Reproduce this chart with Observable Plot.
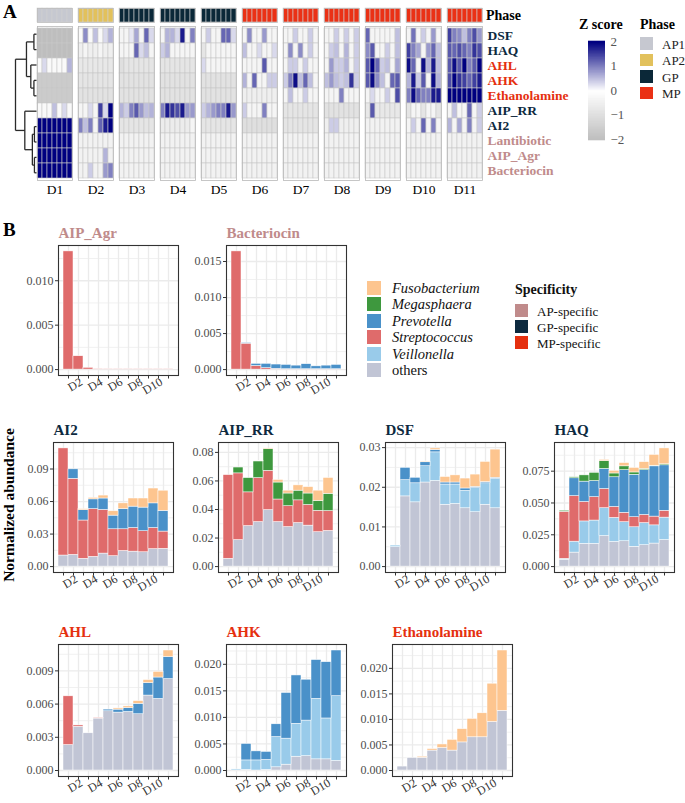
<!DOCTYPE html>
<html><head><meta charset="utf-8">
<script src="https://cdn.jsdelivr.net/npm/d3@7"></script>
<script src="https://cdn.jsdelivr.net/npm/@observablehq/plot@0.6"></script>
<style>
body{margin:0;background:#fff;}
#root{position:relative;width:685px;height:803px;overflow:hidden;font-family:"Liberation Serif","Times New Roman",serif;background:#fff;}
#root svg{overflow:visible;}
.t{position:absolute;white-space:nowrap;transform:translateY(-50%);line-height:1;}
.sq{position:absolute;}
</style></head><body><div id="root"></div>
<script>
// ---------------- DATA ----------------
const days = ["D1","D2","D3","D4","D5","D6","D7","D8","D9","D10","D11"];
const dayPhase = ["AP1","AP2","GP","GP","GP","MP","MP","MP","MP","MP","MP"];
const phases = ["AP1","AP2","GP","MP"];
const phaseColors = ["#c6c8d0","#e2c15c","#0b2838","#ea3115"];
const rowNames = ["DSF","HAQ","AHL","AHK","Ethanolamine","AIP_RR","AI2","Lantibiotic","AIP_Agr","Bacteriocin"];
const rowSpecificity = ["GP","GP","MP","MP","MP","GP","GP","AP","AP","AP"];
const specNames = ["AP","GP","MP"];
const specLabels = ["AP-specific","GP-specific","MP-specific"];
const specColors = ["#c08b8b","#0d2a3f","#e5300f"];

// z scores: per row, 11 days x 7 samples
const zDSF = [[-2,-2,-2,-2,-2,-2,-2],[-0.2,0.9,-0.2,0.5,-0.2,0.3,0.6],[-0.3,-0.3,0.2,0.7,-0.3,1.2,0.3],[-0.3,0.6,0.6,0.3,1.8,-0.3,1.0],[-0.3,0.4,-0.3,-0.3,1.2,1.2,0.3],[-0.3,0.9,-0.3,-0.3,0.8,-0.3,-0.3],[-0.3,-0.3,0.4,-0.3,-0.3,0.4,-0.3],[-0.3,-0.3,0.4,-0.3,0.4,-0.3,0.4],[1.2,-0.3,-0.3,-0.3,-0.3,-0.3,0.5],[-0.3,1.1,-0.3,0.4,-0.3,0.8,-0.3],[1.5,1.0,0.9,0.5,1.0,1.4,0.8]];
const zHAQ = [[-2,-2,-2,-2,-2,-2,-2],[-0.5,-0.3,-0.5,-0.5,-0.3,-0.5,-0.5],[-0.3,-0.3,-0.3,1.2,0.3,0.5,-0.3],[0.4,0.6,-0.3,-0.3,-0.3,-0.3,-0.3],[-0.8,-0.3,-0.3,-0.3,-0.3,-0.3,-0.3],[0.5,-0.3,-0.3,0.3,-0.3,-0.3,0.3],[-0.3,0.9,-0.3,0.9,-0.3,0.4,-0.3],[-0.3,0.4,0.5,-0.3,0.6,-0.3,0.4],[0.9,1.3,-0.3,-0.3,0.4,-0.3,0.5],[1.5,1.0,0.7,-0.3,0.8,1.2,0.5],[1.3,1.2,1.4,1.2,1.0,1.6,1.4]];
const zAHL = [[-0.2,0.3,-0.2,-0.2,-0.2,-0.2,0.6],[-0.7,-0.7,-0.7,-0.7,-0.7,-0.7,-0.7],[-1,-0.8,-0.8,-0.8,-0.8,-0.8,-0.8],[-0.8,-0.8,-0.8,-0.8,-0.8,-0.8,-0.8],[0.3,-0.3,-0.3,-0.3,-0.3,-0.3,-0.3],[-0.3,-0.3,-0.3,-0.3,1.3,-0.3,-0.3],[-0.3,0.4,0.4,-0.3,0.4,-0.3,-0.3],[-0.3,0.8,0.4,0.4,0.6,-0.3,0.4],[1.3,2.0,1.2,0.4,0.5,-0.3,0.7],[1.9,1.2,-0.3,1.9,0.6,1.8,0.5],[1.3,1.9,1.3,2.0,1.0,1.3,2.0]];
const zAHK = [[-1.6,-1.6,-1.6,-1.6,-1.6,-1.6,-1.6],[-0.8,-0.8,-0.8,-0.8,-0.8,-0.8,-0.8],[-0.9,-0.9,-0.9,-0.9,-0.9,-0.9,-0.9],[-0.9,-0.9,-0.9,-0.9,-0.9,-0.9,-0.9],[-0.9,-0.9,-0.9,-0.9,-0.9,-0.9,-0.9],[0.6,-0.3,1.2,-0.3,-0.3,0.4,0.4],[0.4,1.0,1.9,0.5,1.2,0.5,-0.3],[0.5,0.8,0.5,0.4,0.5,1.6,0.4],[1.3,1.9,0.9,0.5,-0.3,1.2,1.3],[0.6,1.8,0.4,1.3,-0.3,1.9,0.6],[1.4,2.0,1.6,1.5,1.2,1.5,1.8]];
const zEthanolamine = [[-1.6,-1.6,-1.6,-1.6,-1.6,-1.6,-1.6],[-0.9,-0.9,-0.9,-0.9,-0.9,-0.9,-0.9],[-0.9,-0.9,-0.9,-0.9,-0.9,-0.9,-0.9],[-0.9,-0.9,-0.9,-0.9,-0.9,-0.9,-0.9],[-0.9,-0.9,-0.9,-0.9,-0.9,-0.9,-0.9],[-0.5,-0.5,-0.5,-0.5,-0.5,-0.5,-0.5],[-0.3,0.5,-0.3,-0.3,0.4,-0.3,-0.3],[-0.3,-0.3,-0.3,1.0,-0.3,-0.3,-0.3],[-0.3,0.3,-0.3,-0.3,0.4,-0.3,1.4],[1.0,1.9,1.2,1.0,1.0,1.8,1.8],[2,2,2,2,2,2,2]];
const zAIP_RR = [[-0.2,-0.2,-0.2,0.5,-0.2,0.3,-0.2],[-0.3,-0.3,0.3,-0.3,1.5,0.3,2.0],[0.6,0.4,1.0,1.3,0.8,0.5,0.6],[1.0,1.8,1.6,1.4,1.8,0.8,0.8],[0.4,0.6,0.8,1.0,1.0,1.8,0.8],[0.4,-0.3,-0.3,-0.3,1.0,-0.3,-0.3],[-0.8,-0.8,-0.8,-0.8,-0.8,-0.8,-0.8],[-0.9,-0.9,-0.9,-0.9,-0.9,-0.9,-0.9],[-0.7,1.3,-0.7,-0.7,-0.7,-0.7,-0.7],[-0.8,-0.3,-0.3,-0.8,-0.3,-0.3,-0.8],[-0.3,0.5,-0.3,-0.3,1.2,-0.3,0.4]];
const zAI2 = [[2,2,2,2,2,2,2],[1.0,0.5,1.0,-0.3,1.2,1.8,2.0],[-0.8,-0.8,-0.8,-0.8,-0.8,-0.8,-0.8],[-0.6,-0.6,-0.6,-0.6,-0.6,-0.6,-0.3],[-0.8,-0.8,-0.8,-0.8,-0.8,-0.8,-0.8],[-1,-1,-1,-1,-1,-1,-1],[-0.8,-0.8,-0.8,-0.8,-0.8,-0.8,-0.8],[-0.5,0.4,0.4,-0.5,-0.5,-0.5,-0.5],[-0.4,-0.4,-0.4,-0.4,-0.4,-0.4,-0.4],[-0.3,0.4,-0.3,1.2,-0.3,1.0,-0.3],[0.6,-0.3,0.7,-0.3,1.0,-0.3,0.4]];
const zLantibiotic = [[2,2,2,2,2,2,2],[-0.4,-0.4,-0.4,-0.4,-0.4,-0.4,-0.4],[-0.4,-0.4,-0.4,-0.4,-0.4,-0.4,-0.4],[-0.4,-0.4,-0.4,-0.4,-0.4,-0.4,-0.4],[-0.4,-0.4,-0.4,-0.4,-0.4,-0.4,-0.4],[-0.4,-0.4,-0.4,-0.4,-0.4,-0.4,-0.4],[-0.4,-0.4,-0.4,-0.4,-0.4,-0.4,-0.4],[-0.4,-0.4,-0.4,-0.4,-0.4,-0.4,-0.4],[-0.4,-0.4,-0.4,-0.4,-0.4,-0.4,-0.4],[-0.4,-0.4,-0.4,-0.4,-0.4,-0.4,-0.4],[-0.4,-0.4,-0.4,-0.4,-0.4,-0.4,-0.4]];
const zAIP_Agr = [[2,2,2,2,2,2,2],[-0.4,-0.4,-0.4,-0.4,-0.4,0.6,-0.4],[-0.4,-0.4,-0.4,-0.4,-0.4,-0.4,-0.4],[-0.4,-0.4,-0.4,-0.4,-0.4,-0.4,-0.4],[-0.4,-0.4,-0.4,-0.4,-0.4,-0.4,-0.4],[-0.4,-0.4,-0.4,-0.4,-0.4,-0.4,-0.4],[-0.4,-0.4,-0.4,-0.4,-0.4,-0.4,-0.4],[-0.4,-0.4,-0.4,-0.4,-0.4,-0.4,-0.4],[-0.4,-0.4,-0.4,-0.4,-0.4,-0.4,-0.4],[-0.4,-0.4,-0.4,-0.4,-0.4,-0.4,-0.4],[-0.4,-0.4,-0.4,-0.4,-0.4,-0.4,-0.4]];
const zBacteriocin = [[2,2,2,2,2,2,2],[-0.4,-0.4,0.4,-0.4,-0.4,0.8,1.0],[-0.4,-0.4,-0.4,-0.4,-0.4,-0.4,-0.4],[-0.4,-0.4,-0.4,-0.4,-0.4,-0.4,-0.4],[-0.4,-0.4,-0.4,-0.4,-0.4,-0.4,-0.4],[-0.4,-0.4,-0.4,-0.4,-0.4,-0.4,-0.4],[-0.4,-0.4,-0.4,-0.4,-0.4,-0.4,-0.4],[-0.4,-0.4,-0.4,-0.4,-0.4,-0.4,-0.4],[-0.4,-0.4,-0.4,-0.4,-0.4,-0.4,-0.4],[-0.4,-0.4,-0.4,-0.4,-0.4,-0.4,-0.4],[-0.4,-0.4,-0.4,-0.4,-0.4,-0.4,-0.4]];

// dendrogram (leaf = row index, h = merge height)
const dendroTree = {h:20.3, c:[{h:9.7, c:[{h:2.5, c:[0,1]}, {h:5.5, c:[2,{h:2.5, c:[3,4]}]}]}, {h:11.3, c:[5,{h:4, c:[{h:2, c:[6,7]},{h:2, c:[8,9]}]}]}]};

// panel B: stacked abundances (bottom -> top)
const speciesOrder = ["others","Veillonella","Streptococcus","Prevotella","Megasphaera","Fusobacterium"];
const speciesColors = ["#c1c5d5","#99cbea","#df6b6b","#4a91c9","#3e983e","#fdc58f"];
const legendSpecies = ["Fusobacterium","Megasphaera","Prevotella","Streptococcus","Veillonella","others"];

const abAIP_Agr = {Streptococcus:[0.0133,0.0015,0.0002,0.00006,0.00005,0.00005,0.00005,0.00005,0.00005,0.00005,0.00005]};
const abBacteriocin = {
  Streptococcus:[0.0164,0.0036,0.0005,0.0002,0.0001,0.00005,0.00005,0.00005,0.00005,0.00005,0.00005],
  Prevotella:[0,0.0001,0.0003,0.0006,0.0006,0.0006,0.0005,0.0007,0.0004,0.0005,0.0006]};
const abAI2 = {
  others:[0.0102,0.0108,0.0072,0.009,0.012,0.0096,0.0144,0.0138,0.0132,0.0161,0.0164],
  Streptococcus:[0.0988,0.0702,0.0353,0.044,0.0403,0.0248,0.02,0.0218,0.0194,0.0195,0.0159],
  Prevotella:[0,0.0087,0.0095,0.009,0.0105,0.0126,0.0186,0.0197,0.0218,0.0227,0.0191],
  Fusobacterium:[0,0,0.001,0.0014,0.0027,0.004,0.0053,0.0075,0.0084,0.0137,0.0186]};
const abAIP_RR = {
  others:[0.0055,0.0186,0.0284,0.0312,0.0396,0.0312,0.0277,0.0305,0.0287,0.0241,0.025],
  Streptococcus:[0.0586,0.0467,0.0236,0.0308,0.0275,0.0158,0.0146,0.0159,0.0145,0.015,0.0139],
  Megasphaera:[0,0.0041,0.01,0.0117,0.0152,0.0119,0.0089,0.0068,0.008,0.0068,0.0121],
  Fusobacterium:[0,0,0,0.0002,0.0005,0.0018,0.002,0.0037,0.0045,0.0073,0.0111]};
const abDSF = {
  others:[0.0049,0.0177,0.0162,0.0212,0.0216,0.0156,0.0158,0.0147,0.0137,0.0156,0.0147],
  Veillonella:[0.0004,0.0041,0.0048,0.0041,0.0072,0.0051,0.0049,0.0044,0.0061,0.0054,0.0074],
  Prevotella:[0,0.0031,0.0014,0.001,0.0006,0.0005,0.0005,0.0006,0.0003,0.0003,0.0003],
  Fusobacterium:[0,0,0,0.0002,0.0004,0.0014,0.0018,0.0025,0.0031,0.0051,0.0071]};
const abHAQ = {
  others:[0.0054,0.011,0.0179,0.0179,0.024,0.0194,0.0199,0.0156,0.0168,0.0181,0.0209],
  Veillonella:[0.0007,0.0086,0.0176,0.0183,0.0219,0.0189,0.015,0.0153,0.0174,0.0143,0.0176],
  Streptococcus:[0.037,0.0358,0.0153,0.0184,0.0151,0.0086,0.0074,0.0079,0.0064,0.0069,0.0054],
  Prevotella:[0,0.014,0.016,0.0127,0.0158,0.0233,0.0335,0.0334,0.0352,0.0395,0.0357],
  Megasphaera:[0.0008,0.0008,0.0049,0.0064,0.0061,0.003,0.003,0.0018,0.001,0.0005,0.0008],
  Fusobacterium:[0,0,0,0,0.001,0.0021,0.0026,0.0036,0.0053,0.0085,0.0125]};
const abAHL = {
  others:[0.0023,0.00395,0.00336,0.00469,0.00535,0.00523,0.00529,0.00508,0.00677,0.00647,0.00826],
  Streptococcus:[0.0044,0.00012,0,0.00006,0,0,0,0,0,0,0],
  Prevotella:[0,0,0,0,0.00015,0.00027,0.00035,0.00095,0.00113,0.00193,0.00199],
  Fusobacterium:[0,0,0,0,0,0.00011,0.00015,0.00024,0.00027,0.00051,0.00059]};
const abAHK = {
  others:[0,0.0001,0,0.0001,0.0006,0.0011,0.0026,0.0027,0.0021,0.0021,0.0018],
  Veillonella:[0.0002,0.0018,0.0019,0.0019,0.0057,0.0049,0.0062,0.0067,0.0114,0.0077,0.0122],
  Prevotella:[0,0.0031,0.0017,0.0015,0.0024,0.0086,0.0091,0.0077,0.0073,0.0106,0.0086]};
const abEthanolamine = {
  others:[0.00077,0.00245,0.0025,0.0039,0.0044,0.0039,0.0055,0.0065,0.0065,0.0095,0.0117],
  Fusobacterium:[0,0,0.0002,0.0003,0.0007,0.0021,0.0026,0.0036,0.0047,0.0075,0.0118]};

const yTicksAIP_Agr = [0,0.005,0.010];
const yTicksBacteriocin = [0,0.005,0.010,0.015];
const yTicksAI2 = [0,0.03,0.06,0.09];
const yTicksAIP_RR = [0,0.02,0.04,0.06,0.08];
const yTicksDSF = [0,0.01,0.02,0.03];
const yTicksHAQ = [0,0.025,0.05,0.075];
const yTicksAHL = [0,0.003,0.006,0.009];
const yTicksAHK = [0,0.005,0.010,0.015,0.020];
const yTicksEthanolamine = [0,0.005,0.010,0.015,0.020];
const xLabelDays = ["D2","D4","D6","D8","D10"];

// ---------------- LAYOUT ----------------
const FONT = "'Liberation Serif', 'Times New Roman', serif";
const root = document.getElementById("root");
function place(node, left, top){ node.style.position="absolute"; node.style.left=left+"px"; node.style.top=top+"px"; root.appendChild(node); return node; }
function text(str, x, y, css){ const d=document.createElement("div"); d.className="t"; d.textContent=str; d.style.left=x+"px"; d.style.top=y+"px"; Object.assign(d.style, css||{}); root.appendChild(d); return d; }
function square(x, y, w, h, color){ const d=document.createElement("div"); d.className="sq"; Object.assign(d.style,{left:x+"px",top:y+"px",width:w+"px",height:h+"px",background:color}); root.appendChild(d); }
const specColor = s => specColors[specNames.indexOf(s)];

// panel letters
text("A", 3, 11, {fontWeight:"bold", fontSize:"19px", color:"#000"});
text("B", 3, 229, {fontWeight:"bold", fontSize:"19px", color:"#000"});

// ---- heatmap geometry
const HM_LEFT = 37, HM_W = 446, HM_TOP = 26, HM_H = 154;
const fxOpts = {domain: days, paddingInner: 0.146, paddingOuter: 0, label: null};
const zColor = {type:"linear", domain:[-2,0,2], range:["#bebebe","#ffffff","#000080"], clamp:true};

// phase annotation bar
const phaseCells = [];
days.forEach((d,i)=> d3.range(7).forEach(c => phaseCells.push({day:d, col:c, phase:dayPhase[i]})));
const phasePlot = Plot.plot({
  width: HM_W + 70, height: 14, marginLeft:0, marginRight:70, marginTop:0, marginBottom:0,
  style:{fontFamily:FONT, background:"transparent", overflow:"visible"},
  fx: {...fxOpts, axis:null},
  x: {domain:d3.range(7), padding:0, axis:null},
  color: {domain:phases, range:phaseColors},
  marks:[
    Plot.cell(phaseCells, {fx:"day", x:"col", fill:"phase", stroke:"#cfcfcf", strokeWidth:0.6}),
    Plot.frame({stroke:"#bdbdbd", strokeWidth:0.8}),
    Plot.text(["Phase"], {fx:()=>"D11", x:()=>6, frameAnchor:"middle", dx:6, textAnchor:"start", fontWeight:"bold", fontSize:14, fill:"#000", fontFamily:FONT})
  ]
});
place(phasePlot, HM_LEFT, 8);

// heatmap cells
const zRows = [zDSF,zHAQ,zAHL,zAHK,zEthanolamine,zAIP_RR,zAI2,zLantibiotic,zAIP_Agr,zBacteriocin];
const cells = [];
rowNames.forEach((r,ri)=> zRows[ri].forEach((vals,di)=> vals.forEach((z,ci)=> cells.push({row:r, day:days[di], col:ci, z}))));
const labelMarks = specNames.map(s => Plot.text(rowNames.filter((r,i)=>rowSpecificity[i]===s), {
  fx:()=>"D11", x:()=>6, y:d=>d, dx:7.5, textAnchor:"start", fontWeight:"bold", fontSize:13.5, fill:specColor(s), fontFamily:FONT}));
const hmPlot = Plot.plot({
  width: HM_W + 140, height: HM_H + 24, marginLeft:0, marginRight:140, marginTop:0, marginBottom:24,
  style:{fontFamily:FONT, background:"transparent", overflow:"visible", color:"#000"},
  fx: fxOpts,
  x: {domain:d3.range(7), padding:0, axis:null},
  y: {domain:rowNames, padding:0, axis:null},
  color: zColor,
  marks:[
    Plot.cell(cells, {fx:"day", x:"col", y:"row", fill:"z", stroke:"#c8c8c8", strokeWidth:0.6}),
    Plot.frame({stroke:"#b8b8b8", strokeWidth:0.8}),
    Plot.axisFx({anchor:"bottom", tickSize:0, tickPadding:4, fontSize:13.5, label:null, fill:"#000", fontFamily:FONT}),
    ...labelMarks
  ]
});
place(hmPlot, HM_LEFT, HM_TOP);

// dendrogram
const segs = [];
function walk(n){
  if (typeof n === "number") return {y:n+0.5, h:0};
  const ch = n.c.map(walk);
  ch.forEach(c => segs.push({x1:c.h, x2:n.h, y1:c.y, y2:c.y}));
  segs.push({x1:n.h, x2:n.h, y1:ch[0].y, y2:ch[ch.length-1].y});
  return {y:d3.mean(ch, c=>c.y), h:n.h};
}
walk(dendroTree);
const dendroPlot = Plot.plot({
  width: 23, height: HM_H, margin:0,
  style:{background:"transparent", overflow:"visible"},
  x:{domain:[dendroTree.h, 0], range:[1, 22], axis:null},
  y:{domain:[0, rowNames.length], range:[0, HM_H], axis:null},
  marks:[Plot.link(segs, {x1:"x1", y1:"y1", x2:"x2", y2:"y2", stroke:"#2a2a2a", strokeWidth:1.3})]
});
place(dendroPlot, 14, HM_TOP);

// Z score legend
text("Z score", 579, 25, {fontWeight:"bold", fontSize:"14px", color:"#000"});
const zGrad = d3.range(-2, 2.0001, 0.025);
const zLegend = Plot.plot({
  width: 17 + 26, height: 98 + 12, marginLeft:0, marginRight:26, marginTop:6, marginBottom:6,
  style:{fontFamily:FONT, background:"transparent", overflow:"visible", color:"#555"},
  x:{axis:null},
  y:{domain:[-2,2]},
  color: zColor,
  marks:[
    Plot.ruleY(zGrad, {y:d=>d, stroke:d=>d, strokeWidth:1.6}),
    Plot.axisY([-2,-1,0,1,2], {anchor:"right", tickSize:0, tickPadding:5, fontSize:13, label:null,
      tickFormat:d => d < 0 ? "\u2212" + (-d) : String(d), fill:"#555", fontFamily:FONT})
  ]
});
place(zLegend, 588, 35);

// Phase legend
text("Phase", 640, 25, {fontWeight:"bold", fontSize:"14px", color:"#000"});
phases.forEach((p,i)=>{ square(640, 37 + i*16.5, 13, 12.5, phaseColors[i]); text(p, 662, 43.5 + i*16.5, {fontSize:"13px", color:"#222"}); });

// ---- panel B
function makePanel(name, spec, ab, ticks, dec, fx0, fy0, fh){
  const data = [];
  speciesOrder.forEach(sp => { if (ab[sp]) ab[sp].forEach((v,i)=>{ if (v>0) data.push({day:days[i], species:sp, value:v}); }); });
  const totals = days.map((d,i)=> d3.sum(speciesOrder, sp => ab[sp] ? ab[sp][i] : 0));
  const mx = d3.max(totals);
  const lo = -0.05*mx, hi = 1.05*mx;
  const step = ticks[1]-ticks[0];
  const minor = d3.range(ticks.length + 1).map(k => ticks[0] + step*(k+0.5)).filter(v => v > lo && v < hi);
  const ML = 40, MT = 22, MB = 34, MR = 4, FW = 120;
  const p = Plot.plot({
    width: ML+FW+MR, height: MT+fh+MB, marginLeft:ML, marginRight:MR, marginTop:MT, marginBottom:MB,
    style:{fontFamily:FONT, background:"transparent", overflow:"visible", color:"#333"},
    x:{domain:days, padding:0},
    y:{domain:[lo, hi]},
    color:{domain:speciesOrder, range:speciesColors},
    marks:[
      Plot.gridX(days, {stroke:"#ebebeb", strokeOpacity:1, strokeWidth:1.3}),
      Plot.gridY(minor, {stroke:"#ebebeb", strokeOpacity:1, strokeWidth:0.7}),
      Plot.gridY(ticks, {stroke:"#ebebeb", strokeOpacity:1, strokeWidth:1.3}),
      Plot.barY(data, {x:"day", y:"value", fill:"species", order:speciesOrder, stroke:"white", strokeWidth:0.5}),
      Plot.frame({stroke:"#333", strokeWidth:1.1}),
      Plot.axisY(ticks, {tickSize:3, tickPadding:2, fontSize:12, label:null, tickFormat:d=>d.toFixed(dec), fill:"#4d4d4d", stroke:"#333", fontFamily:FONT}),
      Plot.axisX(days, {tickSize:3.5, tickFormat:()=>"", label:null, stroke:"#333"}),
      Plot.axisX(xLabelDays, {tickSize:3.5, tickPadding:2, tickRotate:-30, fontSize:12, label:null, fill:"#333", stroke:"none", dx:3, fontFamily:FONT}),
      Plot.text([name], {frameAnchor:"top-left", dy:-12, textAnchor:"start", lineAnchor:"middle", fontWeight:"bold", fontSize:15, fill:specColor(spec), fontFamily:FONT})
    ]
  });
  place(p, fx0 - ML, fy0 - MT);
}
makePanel("AIP_Agr", "AP", abAIP_Agr, yTicksAIP_Agr, 3, 58, 245, 130);
makePanel("Bacteriocin", "AP", abBacteriocin, yTicksBacteriocin, 3, 226, 245, 130);
makePanel("AI2", "GP", abAI2, yTicksAI2, 2, 53, 442, 130);
makePanel("AIP_RR", "GP", abAIP_RR, yTicksAIP_RR, 2, 218, 442, 130);
makePanel("DSF", "GP", abDSF, yTicksDSF, 2, 385, 442, 130);
makePanel("HAQ", "GP", abHAQ, yTicksHAQ, 3, 554, 442, 130);
makePanel("AHL", "MP", abAHL, yTicksAHL, 3, 58, 644, 132);
makePanel("AHK", "MP", abAHK, yTicksAHK, 3, 226, 644, 132);
makePanel("Ethanolamine", "MP", abEthanolamine, yTicksEthanolamine, 3, 392, 644, 132);

// y title
const yt = text("Normalized abundance", 9, 505, {fontWeight:"bold", fontSize:"15.5px", color:"#000"});
yt.style.transform = "translate(-50%,-50%) rotate(-90deg)";

// species legend
legendSpecies.forEach((sp,i)=>{
  square(367, 281 + i*16.4, 14, 14, speciesColors[speciesOrder.indexOf(sp)]);
  text(sp, 392, 288 + i*16.4, {fontSize:"14.5px", fontStyle: sp==="others" ? "normal" : "italic", color:"#111"});
});
// specificity legend
text("Specificity", 515, 290, {fontWeight:"bold", fontSize:"14px", color:"#111"});
specNames.forEach((s,i)=>{
  square(515, 304 + i*16, 13, 13, specColors[i]);
  text(specLabels[i], 537, 310.5 + i*16, {fontSize:"13px", color:"#111"});
});
</script></body></html>
